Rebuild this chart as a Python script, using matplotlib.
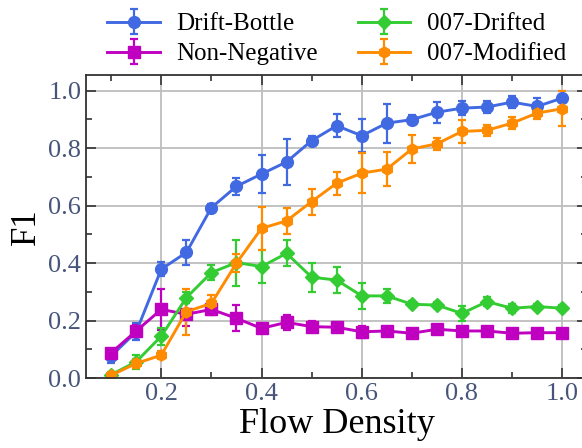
import matplotlib
matplotlib.use('Agg')
import matplotlib.pyplot as plt
from matplotlib.ticker import MultipleLocator

# Densità del flusso (asse x)
density = [0.10, 0.15, 0.20, 0.25, 0.30, 0.35, 0.40, 0.45, 0.50, 0.55,
           0.60, 0.65, 0.70, 0.75, 0.80, 0.85, 0.90, 0.95, 1.00]

# F1 medio e barre d'errore per ciascun metodo
drift_bottle = [0.077, 0.161, 0.379, 0.437, 0.593, 0.667, 0.710, 0.752, 0.826, 0.878,
                0.843, 0.887, 0.899, 0.925, 0.939, 0.943, 0.960, 0.945, 0.974]
drift_bottle_err = [0.025, 0.030, 0.025, 0.045, 0.012, 0.030, 0.067, 0.080, 0.015, 0.040,
                    0.057, 0.068, 0.015, 0.037, 0.025, 0.020, 0.020, 0.030, 0.010]

non_negative = [0.088, 0.164, 0.239, 0.222, 0.239, 0.208, 0.173, 0.194, 0.179, 0.177,
                0.161, 0.164, 0.156, 0.170, 0.164, 0.164, 0.156, 0.158, 0.158]
non_negative_err = [0.015, 0.020, 0.070, 0.040, 0.020, 0.045, 0.010, 0.025, 0.020, 0.015,
                    0.020, 0.015, 0.010, 0.010, 0.010, 0.010, 0.010, 0.005, 0.005]

drifted_007 = [0.012, 0.057, 0.146, 0.280, 0.367, 0.402, 0.388, 0.434, 0.351, 0.341,
               0.286, 0.286, 0.257, 0.254, 0.225, 0.266, 0.243, 0.249, 0.243]
drifted_007_err = [0.010, 0.025, 0.030, 0.020, 0.025, 0.080, 0.058, 0.045, 0.050, 0.045,
                   0.045, 0.025, 0.010, 0.010, 0.025, 0.015, 0.015, 0.010, 0.010]

modified_007 = [0.010, 0.051, 0.080, 0.231, 0.260, 0.400, 0.521, 0.547, 0.614, 0.678,
                0.713, 0.727, 0.797, 0.815, 0.858, 0.862, 0.887, 0.922, 0.937]
modified_007_err = [0.008, 0.015, 0.015, 0.080, 0.030, 0.030, 0.075, 0.045, 0.045, 0.040,
                    0.070, 0.058, 0.050, 0.020, 0.040, 0.020, 0.020, 0.020, 0.060]

plt.rcParams['font.family'] = ['Liberation Serif', 'DejaVu Serif']

fig = plt.figure(figsize=(5.82, 4.48), dpi=100)
ax = fig.add_axes([0.148, 0.156, 0.861, 0.677])

series = [
    (drift_bottle, drift_bottle_err, 'Drift-Bottle', '#4169e1', 'o', 8.5),
    (non_negative, non_negative_err, 'Non-Negative', '#c000c0', 's', 8),
    (drifted_007, drifted_007_err, '007-Drifted', '#33cc33', 'D', 7.5),
    (modified_007, modified_007_err, '007-Modified', '#ff8c00', 'h', 8),
]

handles = {}
for vals, errs, name, col, mk, ms in series:
    h = ax.errorbar(density, vals, yerr=errs, color=col, marker=mk, markersize=ms,
                    linewidth=2.1, elinewidth=1.6, capsize=3, capthick=1.6, label=name)
    handles[name] = h

ax.set_xlim(0.05, 1.05)
ax.set_ylim(0, 1.055)
ax.xaxis.set_minor_locator(MultipleLocator(0.1))
ax.yaxis.set_major_locator(MultipleLocator(0.2))
ax.yaxis.set_minor_locator(MultipleLocator(0.1))
ax.set_xticks([0.2, 0.4, 0.6, 0.8, 1.0])
ax.grid(True, which='major', color='#bdbdbd', linewidth=1.3)
ax.set_axisbelow(True)

ax.tick_params(which='both', direction='in', top=True, right=True, labelsize=19,
               labelcolor='#47557a', color='#333333')
ax.tick_params(which='major', length=7, width=1.2)
ax.tick_params(which='minor', length=4.5, width=1.2)
for s in ax.spines.values():
    s.set_linewidth(1.3)
    s.set_color('#333333')

ax.set_xlabel('Flow Density', fontsize=26, labelpad=2)
ax.set_ylabel('F1', fontsize=25, labelpad=4)

order = ['Drift-Bottle', 'Non-Negative', '007-Drifted', '007-Modified']
ax.legend([handles[n] for n in order], order, loc='lower center',
          bbox_to_anchor=(0.5, 0.99), ncol=2, frameon=False,
          prop={'family': 'Liberation Serif', 'size': 18},
          handlelength=2.1, handletextpad=0.65, columnspacing=1.6,
          labelspacing=0.3, borderaxespad=0.1)

fig.savefig('out.png', dpi=100)
